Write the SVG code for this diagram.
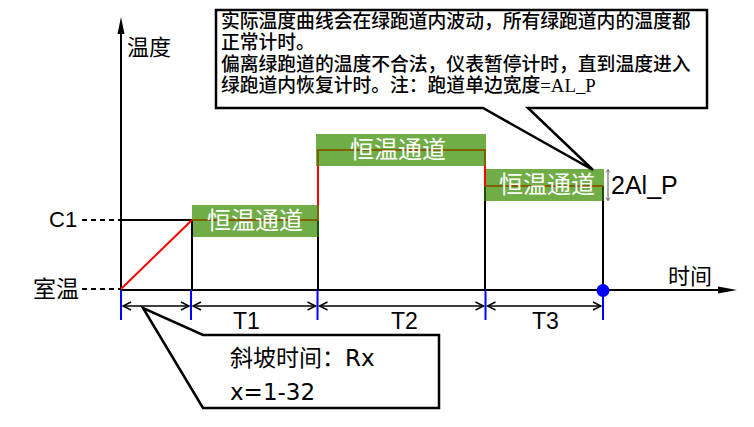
<svg xmlns="http://www.w3.org/2000/svg" width="754" height="427" viewBox="0 0 754 427">
<defs>
<style>
.ax{stroke:#000;stroke-width:2;fill:none}
.red{stroke:#ff0000;stroke-width:2;fill:none}
.brn{stroke:#7f6000;stroke-width:2;fill:none}
.dg{stroke:#1f4d10;stroke-width:2;fill:none}
.blue{stroke:#0000ff;stroke-width:2;fill:none}
.dash{stroke:#000;stroke-width:2;stroke-dasharray:5,4;fill:none}
.dim{stroke:#000;stroke-width:1.4;fill:none;marker-start:url(#chev);marker-end:url(#chev)}
.band{fill:#70ad47}
.bt{font-family:"Noto Sans CJK SC","Noto Sans",sans-serif;font-size:24px;fill:#fff;text-anchor:middle}
.lbl{font-family:"Liberation Sans","Noto Sans CJK SC",sans-serif;font-size:23px;fill:#000}
.cjk{font-family:"Noto Sans CJK SC",sans-serif;font-size:22px;fill:#000}
.note{font-family:"Noto Sans CJK SC",sans-serif;font-size:18.8px;font-weight:500;fill:#000}
.bot{font-family:"DejaVu Sans","Noto Sans CJK SC",sans-serif;font-size:23px;fill:#000}
.call{fill:#fff;stroke:#000;stroke-width:2.5;stroke-linejoin:miter}
</style>
<marker id="chev" viewBox="-10 -6 12 12" markerWidth="12" markerHeight="12" refX="0" refY="0" orient="auto-start-reverse" markerUnits="userSpaceOnUse">
<path d="M-8,-4 L0,0 L-8,4" fill="none" stroke="#000" stroke-width="1.4"/>
</marker>
<marker id="tiny" viewBox="-4 -3 5 6" markerWidth="5" markerHeight="6" refX="0" refY="0" orient="auto-start-reverse" markerUnits="userSpaceOnUse">
<path d="M-3,-2 L0,0 L-3,2" fill="none" stroke="#555" stroke-width="0.8"/>
</marker>
</defs>
<rect width="754" height="427" fill="#fff"/>

<g id="bands">
<rect id="band1" class="band" x="192" y="205" width="126" height="32"/>
<rect id="band2" class="band" x="316" y="134" width="170" height="32"/>
<rect id="band3" class="band" x="484" y="169" width="120" height="32"/>
</g>

<g id="connectors">
<line class="ax" x1="121" y1="290" x2="121" y2="30"/>
<polygon points="121,17 117.5,34 124.5,34" fill="#000"/>
<line class="ax" x1="121" y1="290" x2="722" y2="290"/>
<polygon points="737,290 718,286.5 718,293.5" fill="#000"/>
<line class="dash" x1="82" y1="220" x2="120" y2="220"/>
<line class="dash" x1="82" y1="289" x2="120" y2="289"/>
<line class="ax" x1="121" y1="220" x2="192" y2="220"/>
<line class="ax" x1="192" y1="220" x2="192" y2="290"/>
<line class="ax" x1="318" y1="237" x2="318" y2="290"/>
<line class="ax" x1="485" y1="201" x2="485" y2="290"/>
<line class="ax" x1="603" y1="201" x2="603" y2="290"/>
<line class="dg" x1="318" y1="220" x2="318" y2="237"/>
<line class="dg" x1="485" y1="186" x2="485" y2="201"/>
<line class="dg" x1="603" y1="186" x2="603" y2="201"/>
<line class="red" x1="121" y1="289" x2="192" y2="220"/>
<line class="red" x1="318" y1="166" x2="318" y2="205"/>
<line class="red" x1="485" y1="166" x2="485" y2="186"/>
<polyline class="brn" points="192,220 318,220 318,205"/>
<polyline class="brn" points="318,166 318,150 485,150 485,166"/>
<line class="brn" x1="485" y1="186" x2="603" y2="186"/>
<line class="blue" x1="121" y1="290" x2="121" y2="320"/>
<line class="blue" x1="191" y1="290" x2="191" y2="320"/>
<line class="blue" x1="317.5" y1="290" x2="317.5" y2="320"/>
<line class="blue" x1="485.5" y1="290" x2="485.5" y2="320"/>
<line class="blue" x1="603" y1="290" x2="603" y2="320"/>
<circle cx="603" cy="290.5" r="6.5" fill="#0000ff"/>
<line class="dim" x1="123" y1="306" x2="189" y2="306"/>
<line class="dim" x1="193" y1="306" x2="315.5" y2="306"/>
<line class="dim" x1="319.5" y1="306" x2="483.5" y2="306"/>
<line class="dim" x1="487.5" y1="306" x2="601" y2="306"/>
<line x1="608" y1="169.5" x2="608" y2="200.5" stroke="#555" stroke-width="1" marker-start="url(#tiny)" marker-end="url(#tiny)"/>
</g>

<g id="band-labels">
<text class="bt" x="255" y="229">恒温通道</text>
<text class="bt" x="398" y="158">恒温通道</text>
<text class="bt" x="547" y="193">恒温通道</text>
</g>

<g id="axis-labels">
<text class="cjk" x="127" y="55">温度</text>
<text class="cjk" x="668" y="284">时间</text>
<text class="lbl" x="49" y="227" style="font-size:22px">C1</text>
<text class="cjk" x="33" y="297" style="font-size:23px">室温</text>
<text class="lbl" x="233" y="329">T1</text>
<text class="lbl" x="391" y="329">T2</text>
<text class="lbl" x="532" y="329">T3</text>
<text class="lbl" x="611" y="194" style="font-size:25px">2Al_P</text>
</g>

<g id="note-top">
<path class="call" d="M216,10 L707,10 L707,108 L528,108 L593,170 L483,108 L216,108 Z"/>
<text class="note" x="221" y="28">实际温度曲线会在绿跑道内波动，所有绿跑道内的温度都</text>
<text class="note" x="221" y="49">正常计时。</text>
<text class="note" x="221" y="71">偏离绿跑道的温度不合法，仪表暂停计时，直到温度进入</text>
<text class="note" x="221" y="92">绿跑道内恢复计时。注：跑道单边宽度<tspan style="font-family:'Liberation Serif',serif;font-weight:normal">=AL_P</tspan></text>
</g>

<g id="note-ramp">
<path class="call" stroke-width="2" d="M203,335 L439,335 L439,408 L203,408 L143,308 Z"/>
<text class="bot" x="230" y="366">斜坡时间：Rx</text>
<text class="bot" x="230" y="400">x=1-32</text>
</g>
</svg>
